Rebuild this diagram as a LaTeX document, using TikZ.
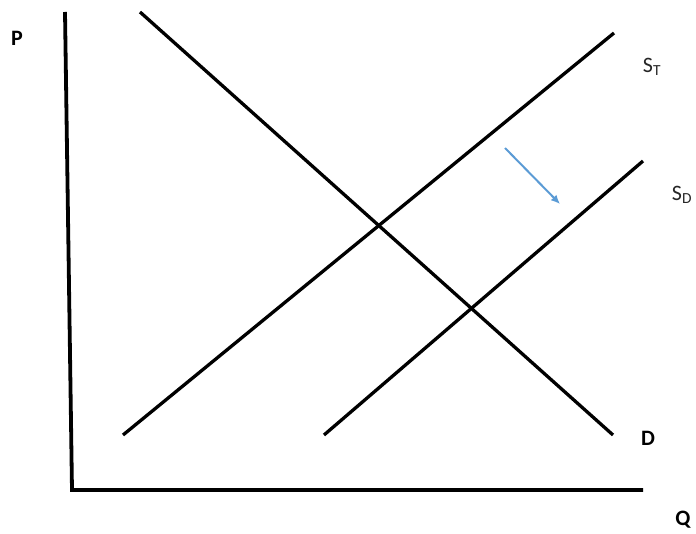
\documentclass[tikz,border=0pt]{standalone}
\usepackage{fontspec}
\setmainfont{Carlito}
\usetikzlibrary{arrows.meta}
\begin{document}
\begin{tikzpicture}[x=1pt,y=-1pt,
  axisline/.style={line width=3.8pt},
  curve/.style={line width=3.3pt},
  axlabel/.style={font=\fontsize{22}{22}\selectfont\bfseries},
  crvlabel/.style={font=\fontsize{22}{22}\selectfont, text=black!85},
  shiftarrow/.style={draw={rgb,255:red,91;green,155;blue,213}, line width=2pt, -{Latex[length=9pt,width=8pt]}}]
\useasboundingbox (0,0) rectangle (696,534);
% axes
\coordinate (ytop) at (65,12);
\coordinate (origin) at (72,490);
\coordinate (xend) at (643,490);
\draw[axisline] (ytop) -- (origin) -- (xend);
% curves
\coordinate (d1) at (140,12);
\coordinate (d2) at (613,435);
\coordinate (st1) at (123,435);
\coordinate (st2) at (614,33);
\coordinate (so1) at (324,435);
\coordinate (so2) at (643,161);
\draw[curve] (d1) -- (d2);
\draw[curve] (st1) -- (st2);
\draw[curve] (so1) -- (so2);
% labels
\node[axlabel] (P) at (17,38) {P};
\node[axlabel] (Q) at (683,520) {Q};
\node[axlabel] (D) at (648,438) {D};
\node[crvlabel] (ST) at (652,67) {S\textsubscript{T}};
\node[crvlabel] (SD) at (682,195) {S\textsubscript{D}};
% arrow
\coordinate (a1) at (505,148);
\coordinate (a2) at (560,204);
\draw[shiftarrow] (a1) -- (a2);
\end{tikzpicture}
\end{document}
